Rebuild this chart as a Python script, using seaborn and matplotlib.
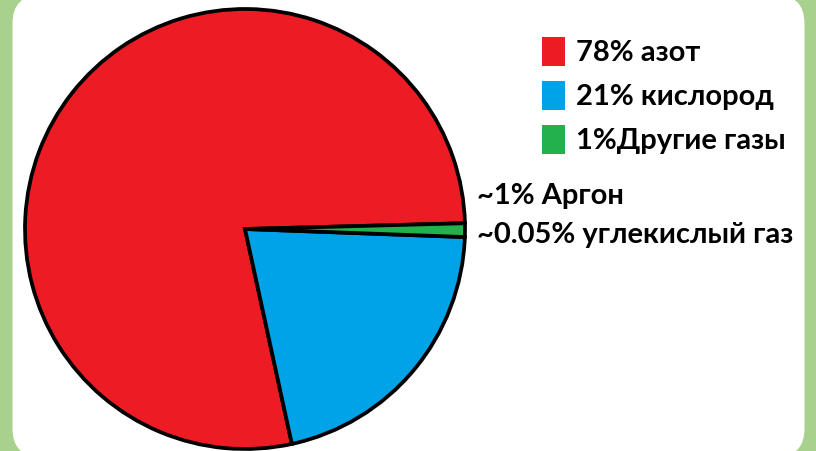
import matplotlib
matplotlib.use("Agg")
import matplotlib.pyplot as plt
import matplotlib.patches as mpatches
import seaborn as sns

# composition of air
labels = ["78% азот", "21% кислород", "1%Другие газы"]
shares = [78, 21, 1]
colors = ["#ed1c24", "#00a2e8", "#22b14c"]
notes = ["~1% Аргон", "~0.05% углекислый газ"]

sns.set_theme(style="white")
plt.rcParams["font.family"] = ["Lato", "Open Sans", "DejaVu Sans"]

W, H = 816, 451
fig = plt.figure(figsize=(W / 100, H / 100), dpi=100)
fig.patch.set_facecolor("#a9d18e")

# white rounded card
card = mpatches.FancyBboxPatch((12.5 / W, -6 / H), 792 / W, 462 / H,
                               boxstyle="round,pad=0,rounding_size=0.035",
                               transform=fig.transFigure, facecolor="white",
                               edgecolor="none", mutation_aspect=W / H, zorder=-5)
fig.patches.append(card)

# pie: centre (245, 229) px, radius 220 px
cx, cy, r, half = 245, 229, 220, 240
ax = fig.add_axes([(cx - half) / W, (H - cy - half) / H, 2 * half / W, 2 * half / H])
ax.set_facecolor("none")
ax.pie(shares, colors=colors, startangle=1.5, counterclock=True,
       wedgeprops=dict(edgecolor="black", linewidth=2.7))
lim = half / r
ax.set_xlim(-lim, lim)
ax.set_ylim(-lim, lim)
ax.set_aspect("equal")
ax.axis("off")

fs = 21
handles = [mpatches.Patch(facecolor=c, edgecolor="none") for c in colors]
fig.legend(handles, labels, loc="upper left", bbox_to_anchor=(542 / W, 1 - 37 / H),
           frameon=False, prop=dict(weight="bold", size=fs), labelcolor="black",
           handlelength=0.8, handleheight=1.15, handletextpad=0.38,
           labelspacing=0.5, borderpad=0, borderaxespad=0)

fig.text(477 / W, 1 - 204 / H, notes[0], fontsize=fs, fontweight="bold",
         color="black", va="baseline", ha="left")
fig.text(477 / W, 1 - 243 / H, notes[1], fontsize=fs, fontweight="bold",
         color="black", va="baseline", ha="left")

fig.savefig("out.png", dpi=100, facecolor=fig.get_facecolor())
